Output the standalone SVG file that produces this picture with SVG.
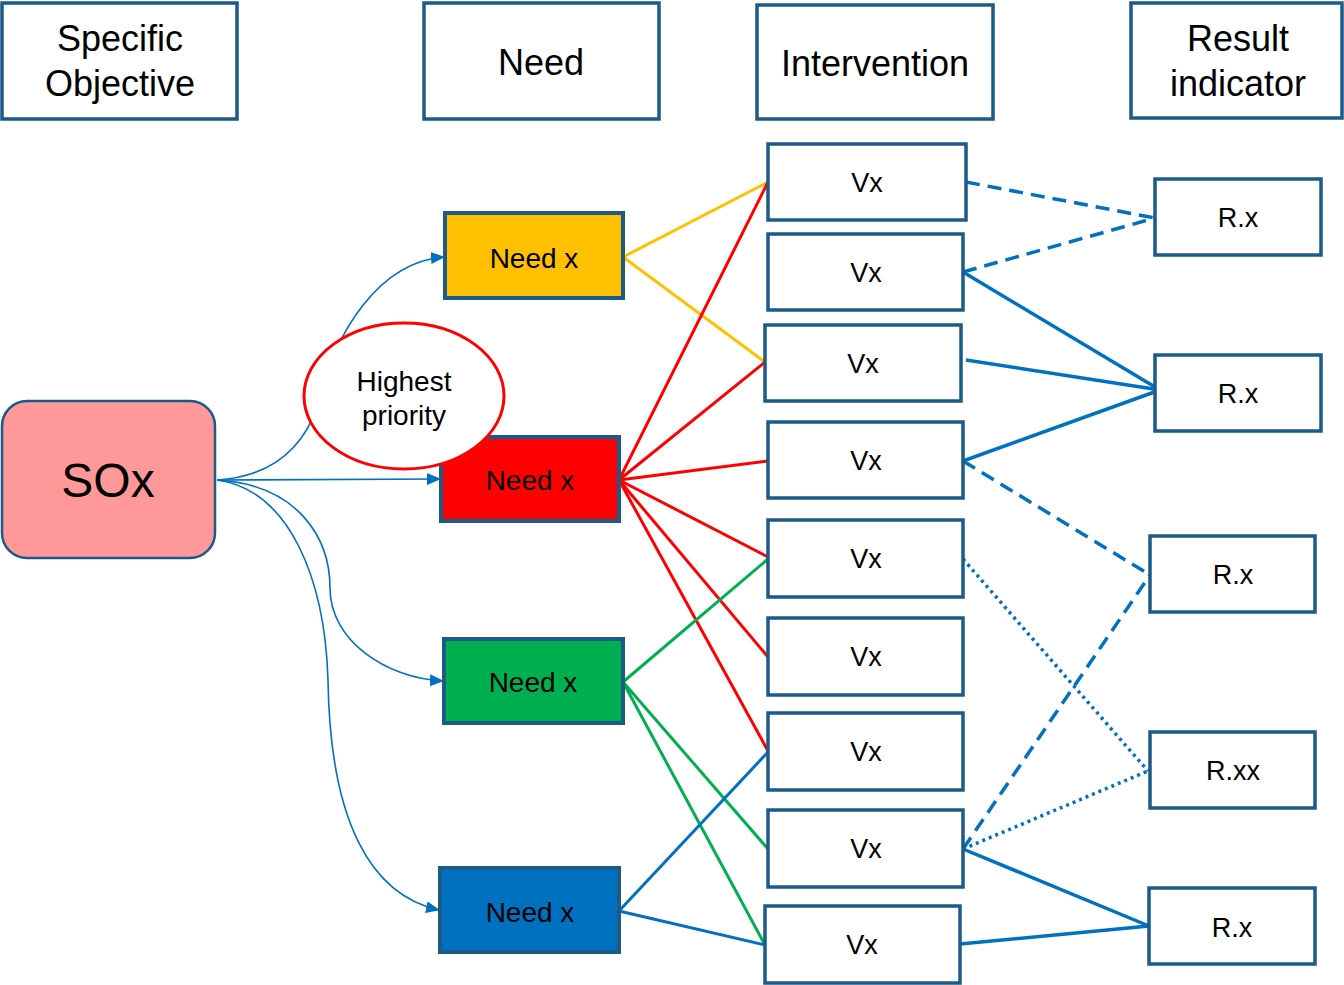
<svg xmlns="http://www.w3.org/2000/svg" width="1344" height="985" viewBox="0 0 1344 985">
<style>
.box{fill:#fff;stroke:#1C5A88;stroke-width:3.5}
.need{stroke:#1C5A88;stroke-width:4}
text{font-family:"Liberation Sans",Arial,sans-serif;fill:#000;text-anchor:middle}
.hdr{font-size:36px}
.nt{font-size:28px;dominant-baseline:central}
.vt{font-size:27px;dominant-baseline:central}
.arr{fill:none;stroke:#0070C0;stroke-width:1.6}
.ln{fill:none;stroke-width:3}
.bl{fill:none;stroke:#0070C0;stroke-width:3.5}
.dash{stroke-dasharray:14 8}
.dot{stroke-dasharray:3 4}
</style>
<defs>
<marker id="ah" viewBox="0 0 14 12" refX="13" refY="6" markerWidth="14" markerHeight="12" markerUnits="userSpaceOnUse" orient="auto">
<path d="M0,0 L14,6 L0,12 z" fill="#0070C0"/>
</marker>
</defs>
<rect width="1344" height="985" fill="#fff"/>
<g id="connectors">
<path class="arr" d="M217,480 C280,476 306,440 318,405 C335,330 380,262 444,257" marker-end="url(#ah)"/>
<path class="arr" d="M217,480 L440,479" marker-end="url(#ah)"/>
<path class="arr" d="M217,480 C300,485 330,540 330,588 C330,640 385,678 443,681" marker-end="url(#ah)"/>
<path class="arr" d="M217,480 C290,490 325,580 328,680 C330,820 370,895 439,910" marker-end="url(#ah)"/>
<g stroke="#FFC000" class="ln">
<line x1="623" y1="257" x2="768" y2="182"/>
<line x1="623" y1="257" x2="765" y2="362"/>
</g>
<g stroke="#FF0000" class="ln">
<line x1="619" y1="480" x2="768" y2="182"/>
<line x1="619" y1="480" x2="765" y2="362"/>
<line x1="619" y1="480" x2="768" y2="461"/>
<line x1="619" y1="480" x2="768" y2="557"/>
<line x1="619" y1="480" x2="768" y2="657"/>
<line x1="619" y1="480" x2="768" y2="751"/>
</g>
<g stroke="#00B050" class="ln">
<line x1="623" y1="682" x2="768" y2="559"/>
<line x1="623" y1="682" x2="768" y2="849"/>
<line x1="623" y1="682" x2="765" y2="945"/>
</g>
<g stroke="#0070C0" class="ln">
<line x1="619" y1="911" x2="768" y2="752"/>
<line x1="619" y1="911" x2="765" y2="945"/>
</g>
<g>
<line class="bl dash" x1="966" y1="182" x2="1155" y2="218"/>
<line class="bl dash" x1="963" y1="272" x2="1155" y2="218"/>
<line class="bl" x1="963" y1="272" x2="1160" y2="390"/>
<line class="bl" x1="966" y1="360" x2="1160" y2="390"/>
<line class="bl" x1="963" y1="461" x2="1160" y2="390"/>
<line class="bl dash" x1="963" y1="461" x2="1150" y2="575"/>
<line class="bl dot" x1="963" y1="559" x2="1148" y2="771"/>
<line class="bl dash" x1="963" y1="849" x2="1150" y2="575"/>
<line class="bl dot" x1="963" y1="849" x2="1148" y2="771"/>
<line class="bl" x1="963" y1="849" x2="1149" y2="926"/>
<line class="bl" x1="960" y1="944" x2="1149" y2="926"/>
</g>
</g>
<g id="hdr-so"><rect class="box" x="2" y="3" width="235" height="116"/><text class="hdr" x="120" y="51">Specific</text><text class="hdr" x="120" y="96">Objective</text></g>
<g id="hdr-need"><rect class="box" x="424" y="3" width="235" height="116"/><text class="hdr" x="541" y="75">Need</text></g>
<g id="hdr-int"><rect class="box" x="757" y="5" width="236" height="114"/><text class="hdr" x="875" y="76">Intervention</text></g>
<g id="hdr-res"><rect class="box" x="1131" y="3" width="211" height="115"/><text class="hdr" x="1238" y="51">Result</text><text class="hdr" x="1238" y="96">indicator</text></g>
<g id="sox"><rect x="2" y="401" width="213" height="157" rx="25" ry="25" fill="#FF9999" stroke="#1C5A88" stroke-width="2.5"/><text x="108" y="497" style="font-size:48px">SOx</text></g>
<g id="need1"><rect class="need" x="445" y="213" width="178" height="85" fill="#FFC000"/><text class="nt" x="534" y="258">Need x</text></g>
<g id="need2"><rect class="need" x="441" y="437" width="178" height="84" fill="#FF0000"/><text class="nt" x="530" y="480">Need x</text></g>
<g id="need3"><rect class="need" x="444" y="639" width="179" height="84" fill="#00B050"/><text class="nt" x="533" y="682">Need x</text></g>
<g id="need4"><rect class="need" x="440" y="868" width="179" height="84" fill="#0070C0"/><text class="nt" x="530" y="912">Need x</text></g>
<g id="priority"><ellipse cx="404" cy="396" rx="100" ry="73" fill="#fff" stroke="#FF0000" stroke-width="3"/><text x="404" y="391" style="font-size:28px">Highest</text><text x="404" y="425" style="font-size:28px">priority</text></g>
<g id="v1"><rect class="box" x="768" y="144" width="198" height="76"/><text class="vt" x="867" y="183">Vx</text></g>
<g id="v2"><rect class="box" x="768" y="234" width="195" height="76"/><text class="vt" x="866" y="273">Vx</text></g>
<g id="v3"><rect class="box" x="765" y="325" width="196" height="76"/><text class="vt" x="863" y="364">Vx</text></g>
<g id="v4"><rect class="box" x="768" y="422" width="195" height="76"/><text class="vt" x="866" y="461">Vx</text></g>
<g id="v5"><rect class="box" x="768" y="520" width="195" height="77"/><text class="vt" x="866" y="559">Vx</text></g>
<g id="v6"><rect class="box" x="768" y="618" width="195" height="77"/><text class="vt" x="866" y="657">Vx</text></g>
<g id="v7"><rect class="box" x="768" y="713" width="195" height="77"/><text class="vt" x="866" y="752">Vx</text></g>
<g id="v8"><rect class="box" x="768" y="810" width="195" height="77"/><text class="vt" x="866" y="849">Vx</text></g>
<g id="v9"><rect class="box" x="765" y="906" width="195" height="77"/><text class="vt" x="862" y="945">Vx</text></g>
<g id="r1"><rect class="box" x="1155" y="179" width="166" height="76"/><text class="vt" x="1238" y="218">R.x</text></g>
<g id="r2"><rect class="box" x="1155" y="355" width="166" height="76"/><text class="vt" x="1238" y="394">R.x</text></g>
<g id="r3"><rect class="box" x="1150" y="536" width="165" height="76"/><text class="vt" x="1233" y="575">R.x</text></g>
<g id="r4"><rect class="box" x="1150" y="732" width="165" height="76"/><text class="vt" x="1233" y="771">R.xx</text></g>
<g id="r5"><rect class="box" x="1149" y="888" width="166" height="76"/><text class="vt" x="1232" y="928">R.x</text></g>
</svg>
